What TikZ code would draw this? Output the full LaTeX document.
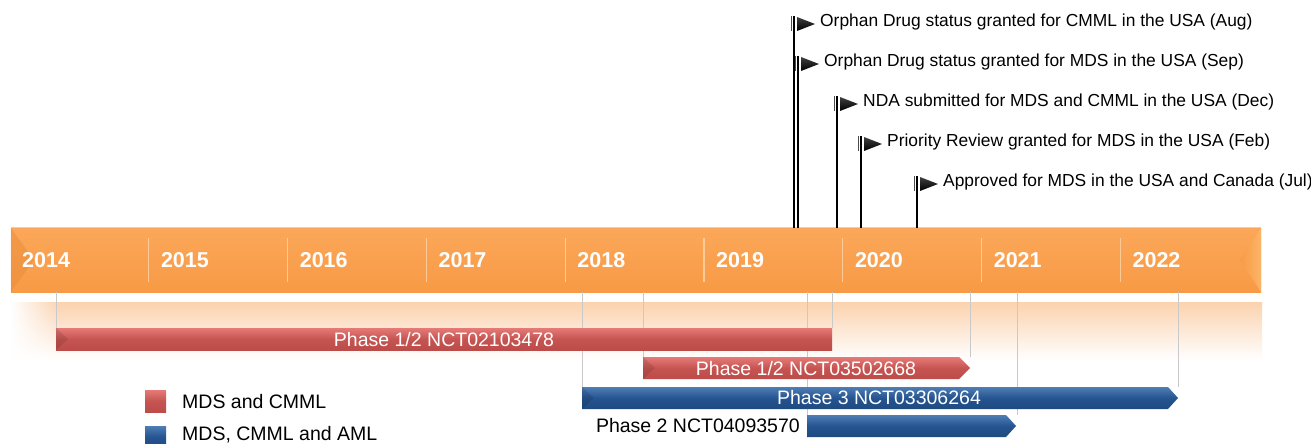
\documentclass[tikz,border=0pt]{standalone}
\usepackage{fontspec}
\setmainfont{Liberation Sans}
\usetikzlibrary{fadings}
\definecolor{orngtop}{HTML}{FBA759}
\definecolor{orngbot}{HTML}{F89A45}
\definecolor{orngline}{HTML}{FDCB97}
\definecolor{orngdark}{HTML}{E88A38}
\definecolor{orngbev}{HTML}{FCB568}
\definecolor{bandtop}{HTML}{FBD2AE}
\definecolor{redtop}{HTML}{E57A77}
\definecolor{redmid}{HTML}{C65552}
\definecolor{redbot}{HTML}{BC4C49}
\definecolor{bluetop}{HTML}{4F7DB5}
\definecolor{bluemid}{HTML}{255490}
\definecolor{bluebot}{HTML}{1E4A80}
\definecolor{guide}{HTML}{C9C9C9}
\tikzset{
  redbar/.style={top color=redtop, bottom color=redbot, middle color=redmid},
  bluebar/.style={top color=bluetop, bottom color=bluebot, middle color=bluemid},
  barlbl/.style={text=white, font=\fontsize{19.5}{22}\selectfont, inner sep=0pt},
  yearlbl/.style={text=white, font=\bfseries\fontsize{21.5}{24}\selectfont, inner sep=0pt, anchor=west},
  mslbl/.style={text=black, font=\fontsize{17.4}{20}\selectfont, inner sep=0pt, anchor=west},
  leglbl/.style={text=black, font=\fontsize{19.5}{22}\selectfont, inner sep=0pt, anchor=west},
  sep/.style={draw=orngline, line width=1.2pt},
  guideline/.style={draw=guide, line width=1pt},
  pole/.style={draw=black, line width=1.6pt},
  polethin/.style={draw=black!70, line width=0.7pt},
  flagtri/.style={top color=black!75, bottom color=black},
  bevel/.style={fill=black, opacity=0.10}
}
\begin{document}
\begin{tikzpicture}[x=1pt,y=-1pt]
\useasboundingbox[fill=white] (0,0) rectangle (1311,444);

% faded band under the timeline
\shade[top color=bandtop, bottom color=white] (11,302) rectangle (1262,360);
\fill[white, path fading=east] (11,300) rectangle (60,362);

% timeline bar
\node[name=tl, inner sep=0pt, minimum width=1250pt, minimum height=64pt,
      top color=orngtop, bottom color=orngbot] at (636,260) {};
\fill[orngdark, opacity=0.45] (tl.north west) -- (34,260) -- (tl.south west) -- cycle;
\shade[left color=orngbot, right color=orngbev] (tl.north east) -- (1240,260) -- (tl.south east) -- cycle;
\draw[orngline, line width=1pt] (tl.north west) -- (tl.north east);
\foreach \i in {1,...,8} \draw[sep] (10+138.8*\i,238) -- ++(0,44);
\foreach \y [count=\i from 0] in {2014,2015,2016,2017,2018,2019,2020,2021,2022}
  \node[yearlbl] (y\y) at (22+138.8*\i,260) {\y};

% bar anchor coordinates
\coordinate (b1s) at (56,328);   \coordinate (b1e) at (832,328);
\coordinate (b2s) at (643,357);  \coordinate (b2e) at (970,357);
\coordinate (b3s) at (582,387);  \coordinate (b3e) at (1178,387);
\coordinate (b4s) at (807,415);  \coordinate (b4e) at (1017,415);

% guide lines from the timeline to the bars
\foreach \c in {b1s,b1e,b2s,b2e,b3s,b3e,b4s,b4e}
  \draw[guideline] (tl.south -| \c) -- (\c);

% bars
\shade[redbar] (56,328) rectangle (832,350);
\fill[bevel] (56,328) -- (68,339) -- (56,350) -- cycle;
\node[barlbl] (l1) at (444,340) {Phase 1/2 NCT02103478};

\shade[redbar] (643,357) -- (959,357) -- (970,368) -- (959,379) -- (643,379) -- cycle;
\fill[bevel] (643,357) -- (655,368) -- (643,379) -- cycle;
\node[barlbl] (l2) at (806,369) {Phase 1/2 NCT03502668};

\shade[bluebar] (582,387) -- (1168,387) -- (1178,398) -- (1168,409) -- (582,409) -- cycle;
\fill[bevel] (582,387) -- (594,398) -- (582,409) -- cycle;
\node[barlbl] (l3) at (879,398) {Phase 3 NCT03306264};

\shade[bluebar] (807,415) -- (1006,415) -- (1016,426) -- (1006,437) -- (807,437) -- cycle;
\node[leglbl, anchor=east, text=black] (l4) at (800,426) {Phase 2 NCT04093570};

% legend
\node[inner sep=0pt, minimum width=21pt, minimum height=22pt, top color=redtop, bottom color=redbot, middle color=redmid] (kr) at (155.5,401) {};
\node[leglbl] (kt1) at (182,402) {MDS and CMML};
\node[inner sep=0pt, minimum width=21pt, minimum height=22pt, top color=bluetop, bottom color=bluebot, middle color=bluemid] (kb) at (155.5,437) {};
\node[leglbl] (kt2) at (182,435) {MDS, CMML and AML};

% milestone flags
\foreach \x/\t/\txt [count=\k] in {
  794/16/{Orphan Drug status granted for CMML in the USA (Aug)},
  798/56/{Orphan Drug status granted for MDS in the USA (Sep)},
  837/96/{NDA submitted for MDS and CMML in the USA (Dec)},
  861/136/{Priority Review granted for MDS in the USA (Feb)},
  917/176/{Approved for MDS in the USA and Canada (Jul)}}{
  \coordinate (f\k) at (\x,\t);
  \draw[pole] (f\k) -- (f\k |- tl.north);
  \draw[polethin] ([xshift=-2.6pt]f\k) -- ++(0,15);
  \shade[flagtri] ([xshift=3pt,yshift=-1pt]f\k) -- ([xshift=21pt,yshift=-8pt]f\k) -- ([xshift=3pt,yshift=-15pt]f\k) -- cycle;
  \node[mslbl] (m\k) at ([xshift=26pt,yshift=-6pt]f\k) {\txt};
}
\end{tikzpicture}
\end{document}
